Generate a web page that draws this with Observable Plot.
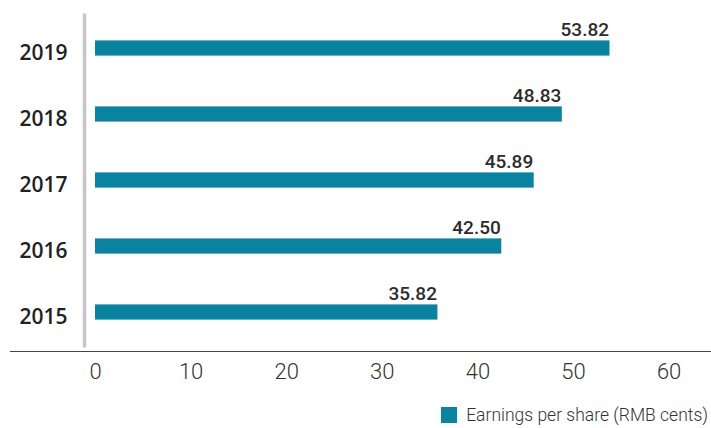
<!DOCTYPE html>
<html>
<head>
<meta charset="utf-8">
<script src="https://cdn.jsdelivr.net/npm/d3@7"></script>
<script src="https://cdn.jsdelivr.net/npm/@observablehq/plot@0.6"></script>
<style>
  html, body { margin: 0; padding: 0; background: #fff; }
  #chart { width: 711px; }
  .legend { display: flex; justify-content: flex-end; align-items: center; height: 30px; padding-right: 3px; margin-top: 2px;
    font-family: Roboto, "Liberation Sans", sans-serif; font-weight: 300; font-size: 17.5px; color: #333; }
  .legend .sw { width: 16px; height: 16px; background: #0a83a1; margin-right: 9px; }
</style>
</head>
<body>
<div id="chart"></div>
<script>
const years = ["2019", "2018", "2017", "2016", "2015"];
const eps = [53.82, 48.83, 45.89, 42.50, 35.82];
const xTicks = [0, 10, 20, 30, 40, 50, 60];
const seriesName = "Earnings per share (RMB cents)";
const barColor = "#0a83a1";

const data = years.map((y, i) => ({year: y, eps: eps[i]}));

const H = 398;
const plot = Plot.plot({
  width: 711,
  height: H,
  marginTop: 13.6,
  marginBottom: H - 347.4,
  marginLeft: 95,
  marginRight: 42.4,
  x: {domain: [0, 60], label: null},
  y: {domain: years, padding: 0, label: null},
  style: {background: "#fff"},
  marks: [
    Plot.ruleX([0], {dx: -11, stroke: "#c6c6c6", strokeWidth: 3.5}),
    Plot.frame({anchor: "bottom", insetLeft: -85, insetRight: -42.4, insetBottom: -3.6, stroke: "#444", strokeWidth: 1.2}),
    Plot.barX(data, {x: "eps", y: "year", fill: barColor, insetTop: 25.4, insetBottom: 25.4}),
    Plot.text(data, {x: "eps", y: "year", text: d => d.eps.toFixed(2), textAnchor: "end", dx: -1, dy: -19,
      fontFamily: "Roboto, sans-serif", fontWeight: 500, fontSize: 19, fill: "#2b2b2b"}),
    Plot.axisX({ticks: xTicks, tickSize: 0, tickPadding: 15, tickFormat: d => String(d), label: null,
      fontFamily: "Roboto, sans-serif", fontWeight: 300, fontSize: 22, fill: "#333"}),
    Plot.axisY({tickSize: 0, tickPadding: 28, dy: 4.5, label: null,
      fontFamily: "'Open Sans', sans-serif", fontWeight: 600, fontSize: 21, fill: "#222"})
  ]
});
document.getElementById("chart").appendChild(plot);

const legend = document.createElement("div");
legend.className = "legend";
const sw = document.createElement("span"); sw.className = "sw";
const lt = document.createElement("span"); lt.textContent = seriesName;
legend.appendChild(sw); legend.appendChild(lt);
document.getElementById("chart").appendChild(legend);
</script>
</body>
</html>
